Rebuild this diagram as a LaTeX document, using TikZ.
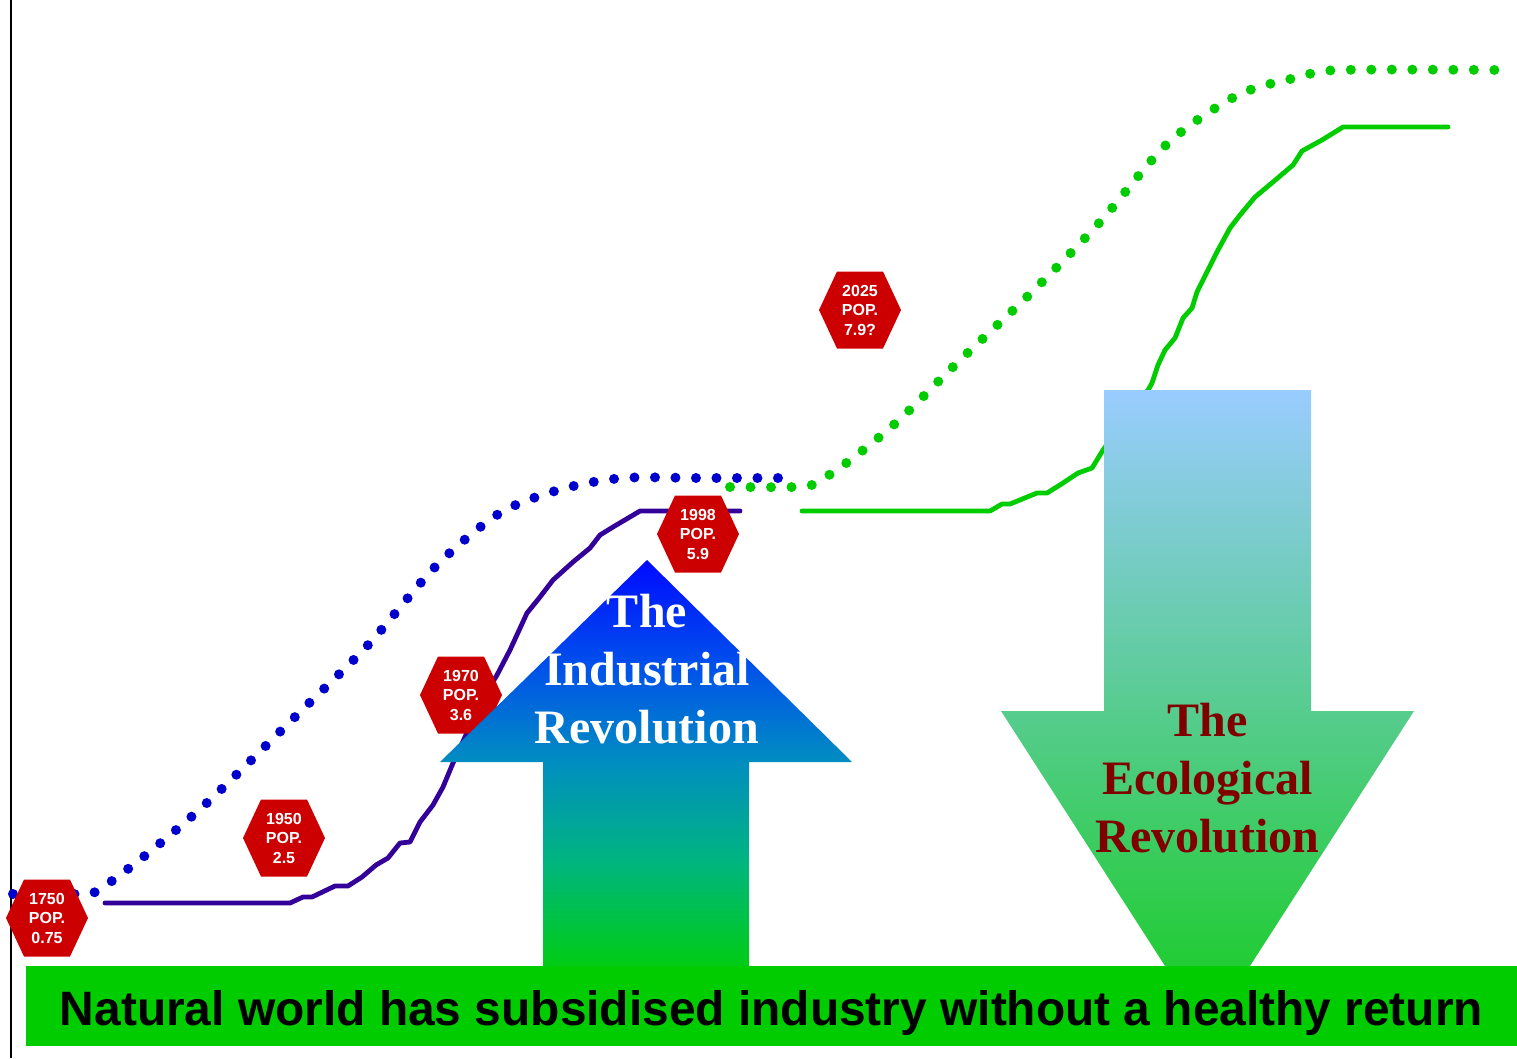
\documentclass[tikz,border=0pt]{standalone}
\usepackage{fontspec}
\setmainfont{Liberation Serif}
\setsansfont{Liberation Sans}
\usepackage{graphicx}
\definecolor{popred}{RGB}{204,0,0}
\definecolor{dotblue}{RGB}{0,0,204}
\definecolor{eartgreen}{RGB}{0,204,0}
\definecolor{indpurple}{RGB}{51,0,153}
\definecolor{ecored}{RGB}{128,0,0}
% colours of the industrial arrow, from bottom to top
\definecolor{indA}{RGB}{0,204,20}
\definecolor{indB}{RGB}{0,182,125}
\definecolor{indC}{RGB}{0,142,192}
\definecolor{indD}{RGB}{0,78,236}
\definecolor{indE}{RGB}{0,10,255}
\pgfdeclareverticalshading{indshade}{100bp}{color(0bp)=(indA); color(25bp)=(indA); color(37.5bp)=(indB); color(50bp)=(indC); color(62.5bp)=(indD); color(75bp)=(indE); color(100bp)=(indE)}

\begin{document}
\begin{tikzpicture}[x=1pt, y=-1pt,
	dots/.style = {line width=10pt, line cap=round, dash pattern=on 0pt off 20.5pt},
	popline/.style = {line width=4.8pt, line cap=round, line join=round},
	poptext/.style = {text=white, align=center, inner sep=0pt, font=\sffamily\bfseries\fontsize{16}{19.5}\selectfont},
	revtext/.style = {align=center, inner sep=0pt, font=\rmfamily\bfseries\fontsize{48}{58}\selectfont}]
	\useasboundingbox (0,0) rectangle (1517,1058);
	\draw [line width = 2pt] (10.5,0) -- (10.5,1058);
	% population curves
	\draw [dots, color = dotblue] plot [smooth, tension = 0.5] coordinates {(13,894) (77,894) (97,891) (147,854) (210,800) (300,712) (368,645) (436,566) (500,513) (562,489) (623,478) (700,478) (778,478)};
	\draw [dots, color = eartgreen] plot [smooth, tension = 0.5] coordinates {(730,487) (794,487) (814,484) (849,461) (898,421) (957,363) (1033,291) (1100,222) (1168,143) (1238,95) (1299,77) (1340,70) (1498,70)};
	\draw [popline, color = indpurple] (105,903) -- (290,903) -- (303,897) -- (312,897) -- (335,886) -- (348,886) -- (362,877) -- (376,865) -- (388,858) -- (400,843) -- (410,842) -- (420,822) -- (433,805) -- (443,787) -- (453,763) -- (465,737) -- (480,703) -- (497,675) -- (510,650) -- (527,613) -- (540,597) -- (553,580) -- (573,562) -- (590,548) -- (600,535) -- (613,527) -- (640,511) -- (740,511);
	\draw [popline, color = eartgreen] (802,511) -- (990,511) -- (1002,504) -- (1010,504) -- (1037,493) -- (1047,493) -- (1063,483) -- (1078,473) -- (1092,468) -- (1103,450) -- (1125,420) -- (1148,390) -- (1152,383) -- (1158,365) -- (1165,350) -- (1175,338) -- (1183,318) -- (1192,308) -- (1197,292) -- (1207,272) -- (1218,250) -- (1230,228) -- (1240,215) -- (1255,197) -- (1273,182) -- (1293,165) -- (1302,151) -- (1322,140) -- (1343,127) -- (1448,127);
	% population signs
	\foreach \px/\py/\yr/\pp in {47/918/1750/0.75, 284/838/1950/2.5, 461/695/1970/3.6, 698/534/1998/5.9, 860/310/2025/7.9?}
	{
		\fill [popred] (\px,\py) ++(-41,0) -- ++(18,-38.5) -- ++(46,0) -- ++(18,38.5) -- ++(-18,38.5) -- ++(-46,0) -- cycle;
		\node [poptext] (pop\yr) at (\px,\py) {\yr\\POP.\\\pp};
	}
	% the two revolutions
	\shade [shading = indshade] (543,966) -- (543,762) -- (440,762) -- (647,560) -- (852,762) -- (749,762) -- (749,966) -- cycle;
	\node [revtext, text = white] (indrev) at (647,669) {The\\Industrial\\Revolution};
	\shade [top color = {rgb,255:red,153;green,204;blue,255}, middle color = {rgb,255:red,106;green,204;blue,178}, bottom color = {rgb,255:red,20;green,204;blue,30}] (1104,390) -- (1311,390) -- (1311,711) -- (1414,711) -- (1207.5,1032) -- (1001,711) -- (1104,711) -- cycle;
	\node [revtext, text = ecored] (ecorev) at (1207.5,778) {The\\Ecological\\Revolution};
	% banner
	\fill [eartgreen] (26,966) rectangle (1517,1046);
	\node [anchor = base, inner sep = 0pt] (banner) at (771.5,1025) {\resizebox{1423pt}{35pt}{\sffamily\bfseries Natural world has subsidised industry without a healthy return}};
\end{tikzpicture}
\end{document}
